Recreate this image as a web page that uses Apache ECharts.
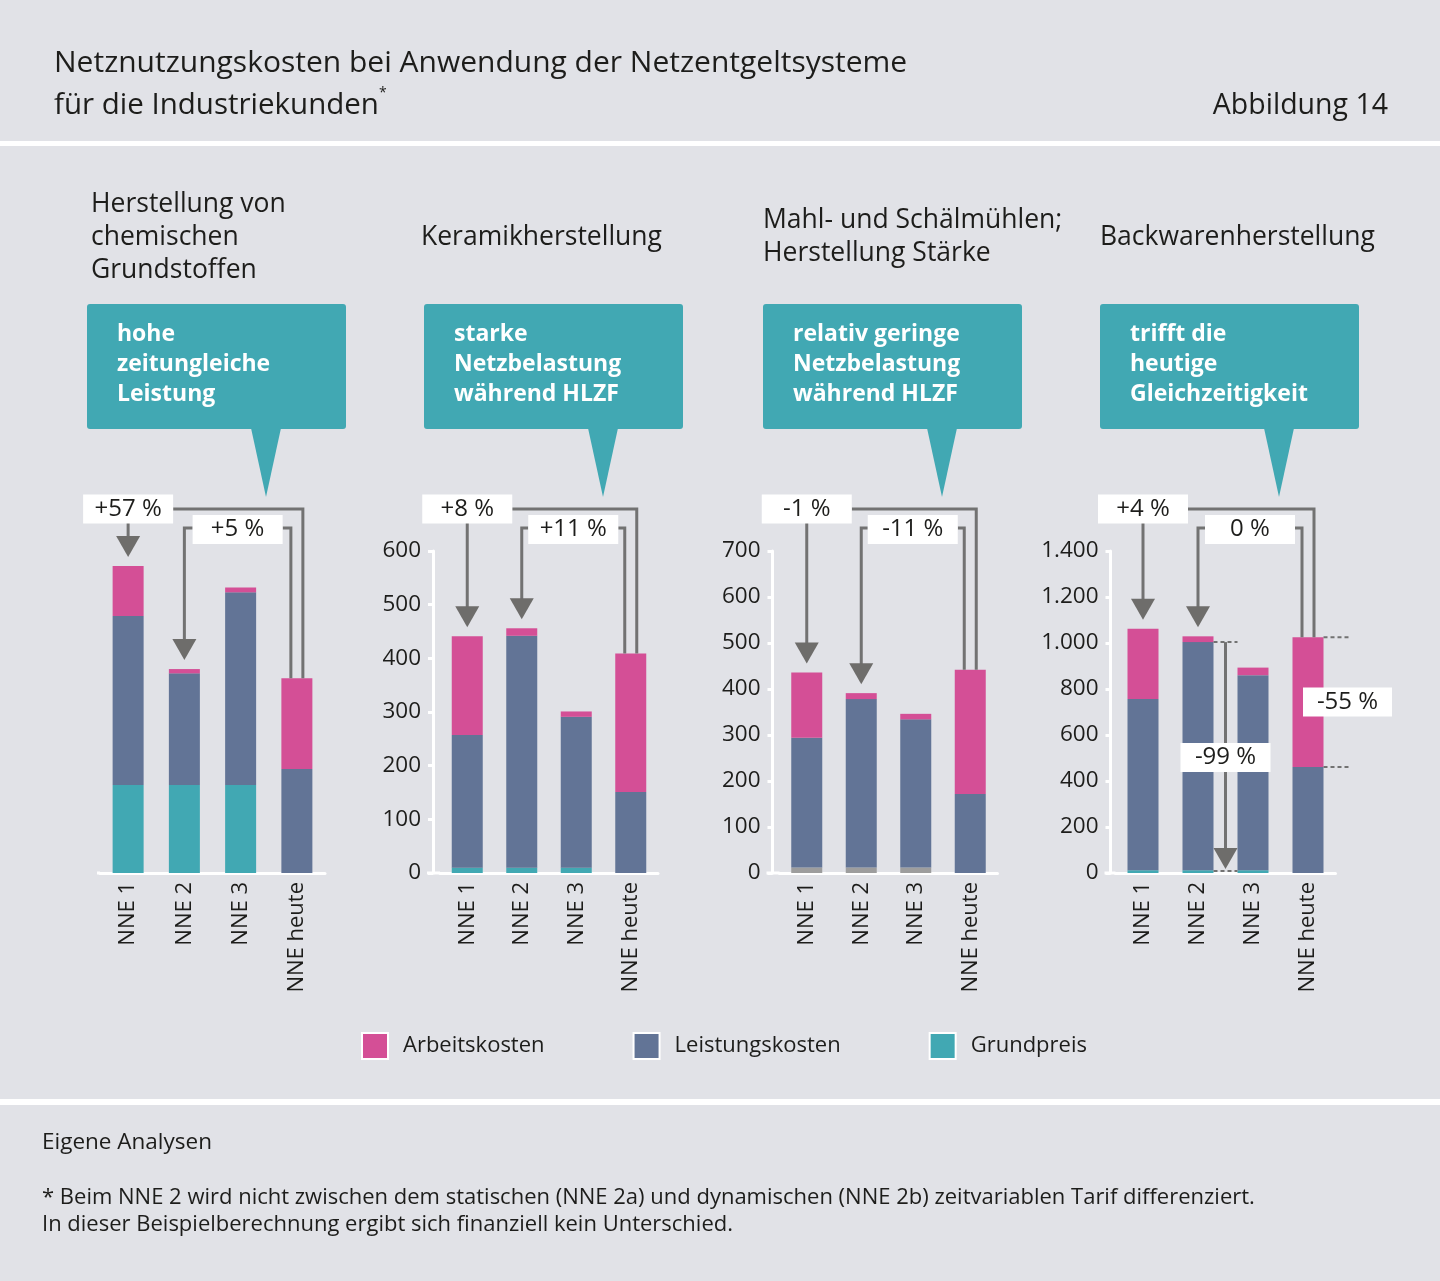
<!DOCTYPE html>
<html lang="de">
<head>
<meta charset="UTF-8" />
<title>Netznutzungskosten</title>
<script src="https://cdn.jsdelivr.net/npm/echarts@6/dist/echarts.min.js"></script>
<style>
html,body{margin:0;padding:0;background:#e1e2e7;}
#main{width:1440px;height:1281px;}
</style>
</head>
<body>
<div id="main"></div>
<script>
// Kategorien und Texte
var categories = ['NNE 1', 'NNE 2', 'NNE 3', 'NNE heute'];
var panelTitles = ['Herstellung von\nchemischen\nGrundstoffen', 'Keramikherstellung', 'Mahl- und Schälmühlen;\nHerstellung Stärke', 'Backwarenherstellung'];
var calloutTexts = ['hohe\nzeitungleiche\nLeistung', 'starke\nNetzbelastung\nwährend HLZF', 'relativ geringe\nNetzbelastung\nwährend HLZF', 'trifft die\nheutige\nGleichzeitigkeit'];

// Werte (aus dem Bild geschaetzt)
var arbeitChem = [93, 8, 9, 169];
var leistungChem = [315, 208, 359, 194];
var grundChem = [164, 164, 164, 0];

var arbeitKeramik = [184, 14, 10, 258];
var leistungKeramik = [247, 432, 281, 151];
var grundKeramik = [10, 10, 10, 0];

var arbeitMahl = [142, 13, 12, 270];
var leistungMahl = [282, 366, 322, 172];
var grundMahl = [12, 12, 12, 0];

var arbeitBack = [306, 25, 33, 564];
var leistungBack = [744, 992, 848, 461];
var grundBack = [12, 12, 12, 0];

var yMax = [600, 600, 700, 1400];
var yInterval = [100, 100, 100, 200];

var changeOuter = ['+57 %', '+8 %', '-1 %', '+4 %'];
var changeInner = ['+5 %', '+11 %', '-11 %', '0 %'];
var changeExtra = ['-99 %', '-55 %'];

var FONT = 'Open Sans';
var TXT = '#1d1d1b';
var PINK = '#d44f96', BLUE = '#627496', TEAL = '#41a8b3', GREY = '#9d9d9d', LINE = '#727272';

var panels = [
  {arbeit: arbeitChem, leistung: leistungChem, grund: grundChem, grundColor: TEAL},
  {arbeit: arbeitKeramik, leistung: leistungKeramik, grund: grundKeramik, grundColor: TEAL},
  {arbeit: arbeitMahl, leistung: leistungMahl, grund: grundMahl, grundColor: GREY},
  {arbeit: arbeitBack, leistung: leistungBack, grund: grundBack, grundColor: TEAL}
];

var gridLeft = [100, 440, 779.5, 1115.5];
var gridWidth = [225, 218, 218, 220];
var axisOffset = [0, 7, 7, 5];
var panelLeft = [87, 424, 763, 1100];

function deNum(v){
  return String(v).replace(/\B(?=(\d{3})+(?!\d))/g, '.');
}

var grids = [], xAxes = [], yAxes = [], series = [];
panels.forEach(function(p, i){
  grids.push({left: gridLeft[i], width: gridWidth[i], top: 551, height: 322});
  xAxes.push({
    type: 'category', gridIndex: i, data: categories,
    axisLine: {lineStyle: {color: '#fff', width: 3}},
    axisTick: {show: false},
    axisLabel: {rotate: 90, margin: 9, fontSize: 22, fontFamily: FONT, color: TXT}
  });
  yAxes.push({
    type: 'value', gridIndex: i, min: 0, max: yMax[i], interval: yInterval[i],
    show: i > 0, offset: axisOffset[i],
    axisLine: {show: true, lineStyle: {color: '#fff', width: 3}},
    axisTick: {show: true, length: 5, lineStyle: {color: '#fff', width: 3}},
    splitLine: {show: false},
    axisLabel: {fontSize: 22.5, fontFamily: FONT, color: TXT, margin: 12, formatter: deNum}
  });
  series.push({name: 'Grundpreis', type: 'bar', stack: 's' + i, xAxisIndex: i, yAxisIndex: i,
    barWidth: 31, data: p.grund, itemStyle: {color: p.grundColor}, silent: true});
  series.push({name: 'Leistungskosten', type: 'bar', stack: 's' + i, xAxisIndex: i, yAxisIndex: i,
    barWidth: 31, data: p.leistung, itemStyle: {color: BLUE}, silent: true});
  series.push({name: 'Arbeitskosten', type: 'bar', stack: 's' + i, xAxisIndex: i, yAxisIndex: i,
    barWidth: 31, data: p.arbeit, itemStyle: {color: PINK}, silent: true});
});

var chart = echarts.init(document.getElementById('main'));
chart.setOption({
  backgroundColor: '#e1e2e7',
  animation: false,
  grid: grids,
  xAxis: xAxes,
  yAxis: yAxes,
  legend: {
    data: ['Arbeitskosten', 'Leistungskosten', 'Grundpreis'],
    left: 361, top: 1032, padding: 0, itemWidth: 26, itemHeight: 26, itemGap: 88,
    icon: 'rect', selectedMode: false,
    itemStyle: {borderColor: '#fff', borderWidth: 2},
    textStyle: {fontFamily: FONT, fontSize: 22, color: TXT, padding: [0, 0, 0, 10]}
  },
  series: series
});

// Beschriftungen, Sprechblasen und Pfeile
function txt(x, y, s, size, opt){
  opt = opt || {};
  return {type: 'text', x: x, y: y, z: 60, style: {
    text: s, fontSize: size, fontFamily: FONT, fontWeight: opt.weight || 'normal',
    fill: opt.fill || TXT, align: opt.align || 'left', verticalAlign: opt.valign || 'middle',
    lineHeight: opt.lh || size * 1.3
  }};
}
function box(cx, cy, w, label){
  return [
    {type: 'rect', z: 55, shape: {x: cx - w / 2, y: cy - 14.5, width: w, height: 29}, style: {fill: '#fff'}},
    txt(cx, cy, label, 24, {align: 'center'})
  ];
}
function pline(pts){
  return {type: 'polyline', z: 50, shape: {points: pts}, style: {stroke: LINE, lineWidth: 3, fill: null}};
}
function head(x, tipY){
  return {type: 'polygon', z: 51, shape: {points: [[x - 12, tipY - 21], [x + 12, tipY - 21], [x, tipY]]}, style: {fill: '#6e6d6b'}};
}
function dash(x1, y, x2){
  return {type: 'line', z: 50, shape: {x1: x1, y1: y, x2: x2, y2: y}, style: {stroke: LINE, lineWidth: 2, lineDash: [4, 3]}};
}

var g = [];
// Kopf und Fuss
g.push({type: 'rect', shape: {x: 0, y: 141, width: 1440, height: 5}, style: {fill: '#fff'}});
g.push({type: 'rect', shape: {x: 0, y: 1099, width: 1440, height: 6}, style: {fill: '#fff'}});
g.push(txt(54, 63, 'Netznutzungskosten bei Anwendung der Netzentgeltsysteme', 30));
g.push({type: 'text', x: 54, y: 106, z: 60, style: {
  text: '{a|für die Industriekunden}{s|*}', fontFamily: FONT, fill: TXT, verticalAlign: 'middle',
  rich: {a: {fontSize: 29.5, fontFamily: FONT, lineHeight: 40}, s: {fontSize: 14, fontFamily: FONT, verticalAlign: 'top', lineHeight: 14}}
}});
g.push(txt(1388, 106, 'Abbildung 14', 28.5, {align: 'right'}));
g.push(txt(42, 1143, 'Eigene Analysen', 22.5));
g.push(txt(42, 1211, '* Beim NNE 2 wird nicht zwischen dem statischen (NNE 2a) und dynamischen (NNE 2b) zeitvariablen Tarif differenziert.\nIn dieser Beispielberechnung ergibt sich finanziell kein Unterschied.', 22, {lh: 27}));

panels.forEach(function(p, i){
  var L = panelLeft[i];
  // Panel-Titel
  g.push(txt(L + 4 - (i === 1 ? 7 : 0) - (i >= 2 ? 4 : 0), 237, panelTitles[i], 26.5, {lh: 33}));
  // Sprechblase
  g.push({type: 'rect', z: 40, shape: {x: L, y: 304, width: 259, height: 125, r: 3}, style: {fill: TEAL}});
  g.push({type: 'polygon', z: 40, shape: {points: [[L + 164, 428], [L + 194, 428], [L + 179, 497]]}, style: {fill: TEAL}});
  g.push(txt(L + 30, 364, calloutTexts[i], 23, {weight: 'bold', fill: '#fff', lh: 30}));

  var pt = function(k, v){ return chart.convertToPixel({gridIndex: i}, [k, v]); };
  var tot = categories.map(function(c, k){ return p.grund[k] + p.leistung[k] + p.arbeit[k]; });
  var x0 = pt(0, 0)[0], x1 = pt(1, 0)[0], x2 = pt(2, 0)[0], x3 = pt(3, 0)[0];
  var y0 = pt(0, 0)[1];
  var top0 = pt(0, tot[0])[1], top1 = pt(1, tot[1])[1], top3 = pt(3, tot[3])[1];
  var gTop = pt(0, yMax[i])[1];
  var yOut = gTop - 42, yIn = gTop - 23;

  // x-Achse bis zur y-Achse verlaengern
  if (i > 0) {
    g.push({type: 'line', z: 45, shape: {x1: gridLeft[i] - axisOffset[i] - 6, y1: y0, x2: gridLeft[i], y2: y0}, style: {stroke: '#fff', lineWidth: 3}});
  } else {
    g.push({type: 'line', z: 45, shape: {x1: gridLeft[i] - 3, y1: y0, x2: gridLeft[i], y2: y0}, style: {stroke: '#fff', lineWidth: 3}});
  }

  // aeusserer Vergleich NNE 1 vs heute
  g.push(pline([[x0 + 45, yOut], [x3 + 6, yOut], [x3 + 6, top3]]));
  g.push(pline([[x0, yOut + 14], [x0, top0 - 29]]));
  g.push(head(x0, top0 - 9));
  g = g.concat(box(x0, yOut, 90, changeOuter[i]));

  // innerer Vergleich NNE 2 vs heute
  var cIn = (x1 + x3 - 6) / 2;
  g.push(pline([[cIn - 45, yIn], [x1, yIn], [x1, top1 - 29]]));
  g.push(head(x1, top1 - 9));
  g.push(pline([[cIn + 45, yIn], [x3 - 6, yIn], [x3 - 6, top3]]));
  g = g.concat(box(cIn, yIn + 1.5, 90, changeInner[i]));

  if (i === 3) {
    var yL = pt(1, p.grund[1] + p.leistung[1])[1];
    var xm = (x1 + x2) / 2;
    g.push(dash(x1 + 15.5, yL, x2 - 15.5));
    g.push(dash(x1 + 15.5, y0 - 2, x2 - 15.5));
    g.push(pline([[xm, yL], [xm, y0 - 24]]));
    g.push(head(xm, y0 - 4));
    g = g.concat(box(xm, (yL + y0) / 2, 90, changeExtra[0]));

    var yB = pt(3, p.grund[3] + p.leistung[3])[1];
    g.push(dash(x3 + 15.5, top3, x3 + 41));
    g.push(dash(x3 + 15.5, yB, x3 + 41));
    g = g.concat(box(x3 + 39.5, (top3 + yB) / 2, 89, changeExtra[1]));
  }
});

chart.setOption({graphic: {elements: g}});
</script>
</body>
</html>
